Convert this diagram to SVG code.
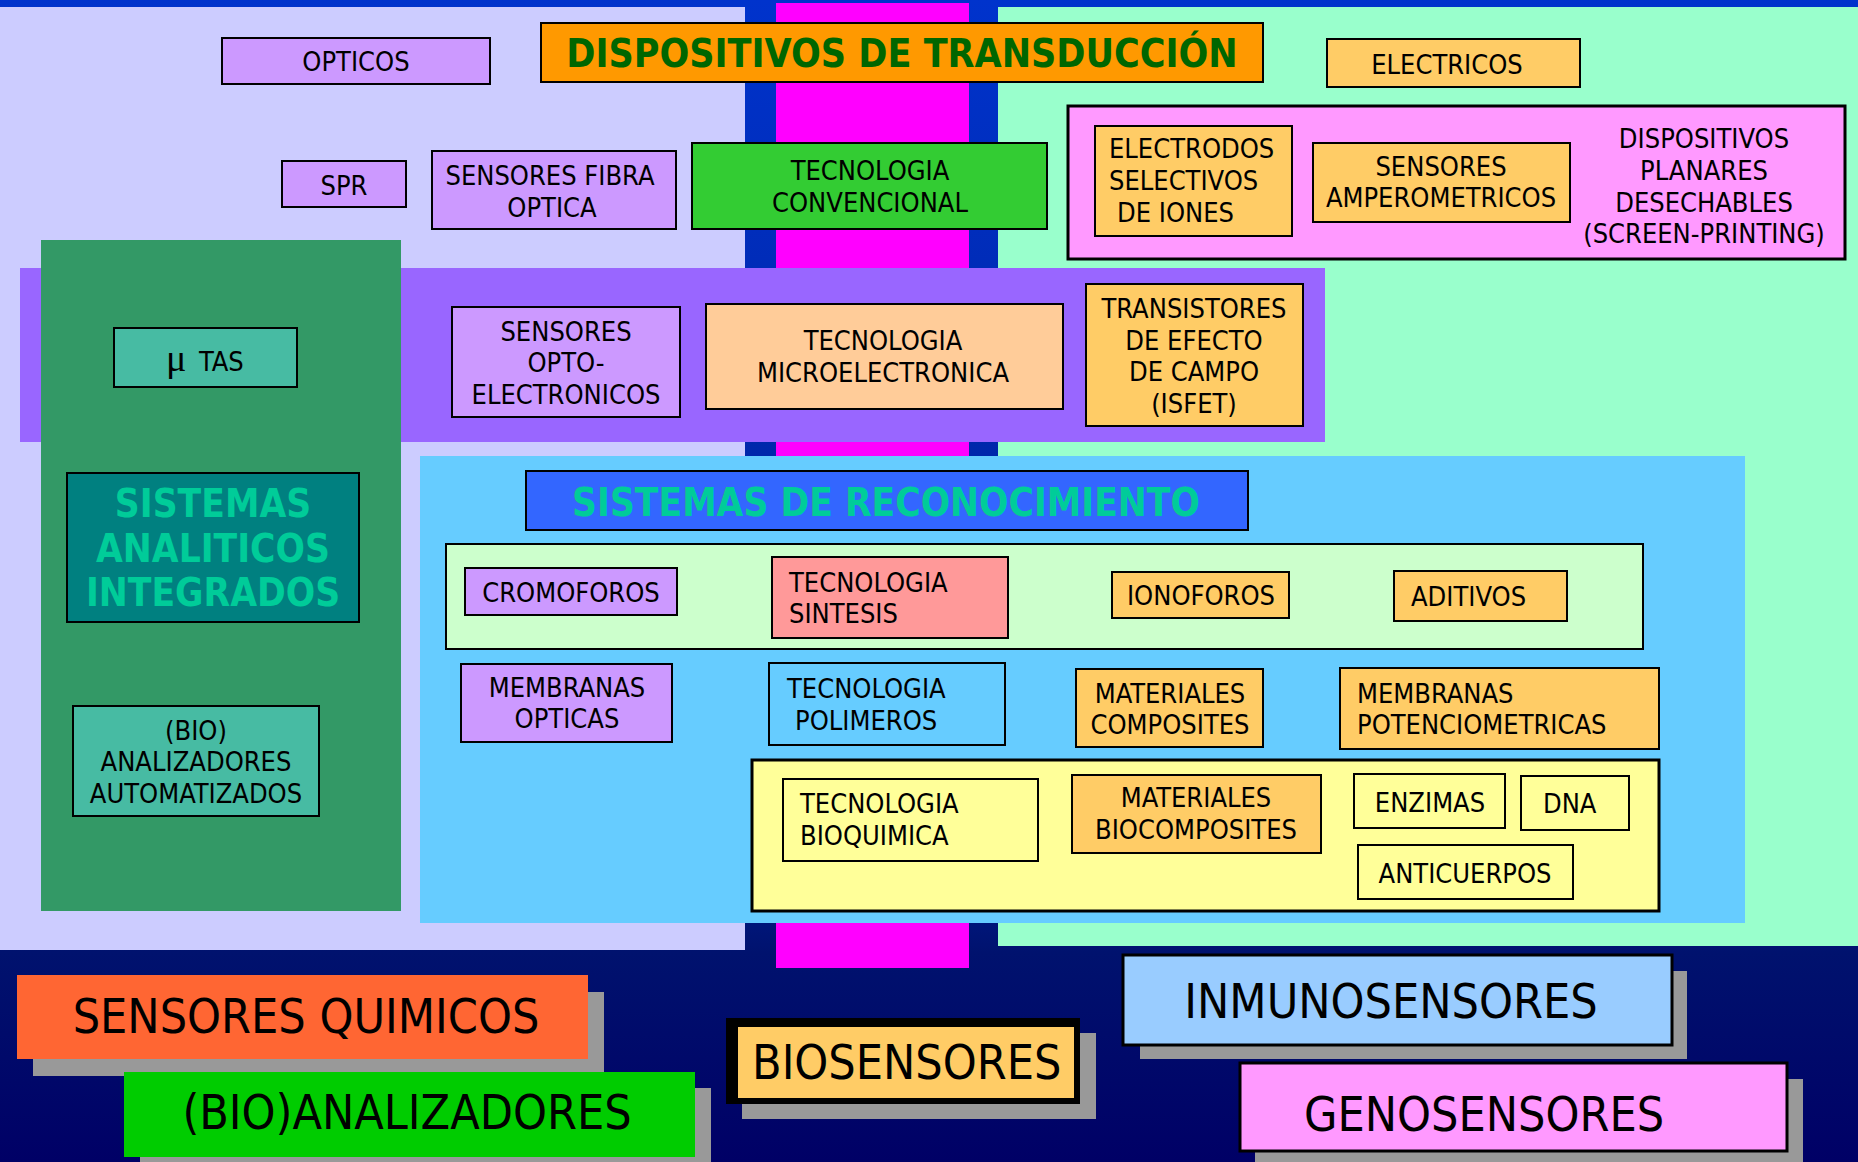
<svg xmlns="http://www.w3.org/2000/svg" width="1858" height="1162" viewBox="0 0 1858 1162">
<defs>
<linearGradient id="bg" x1="0" y1="0" x2="0" y2="1">
<stop offset="0" stop-color="#0033CC"/>
<stop offset="0.75" stop-color="#001C8C"/>
<stop offset="0.82" stop-color="#00126E"/>
<stop offset="1" stop-color="#000066"/>
</linearGradient>
<style>
.t{font-family:'DejaVu Sans Condensed','DejaVu Sans',sans-serif;font-stretch:condensed;font-size:27px;fill:#000}
.c{text-anchor:middle}
.h{font-weight:bold;font-size:38.5px}
.big{font-size:48px}
.b{stroke:#000;stroke-width:2}
.b3{stroke:#000;stroke-width:3}
.sh{fill:#999999}
</style>
</defs>
<g id="background">
<rect x="0" y="0" width="1858" height="1162" fill="url(#bg)"/>
<rect x="0" y="7" width="745" height="943" fill="#CCCCFF"/>
<rect x="998" y="7" width="860" height="939" fill="#99FFCC"/>
<rect x="776" y="3" width="193" height="965" fill="#FF00FF"/>
<rect x="20" y="268" width="1305" height="174" fill="#9966FF"/>
<rect x="41" y="240" width="360" height="671" fill="#339966"/>
<rect x="420" y="456" width="1325" height="467" fill="#66CCFF"/>
</g>
<g id="connectors"/>
<g id="title-transduccion"><rect class="b" x="541" y="23" width="722" height="59" fill="#FF9900"/><text class="t c h" x="902" y="67" style="fill:#006600;font-size:39px">DISPOSITIVOS DE TRANSDUCCIÓN</text></g>
<g id="opticos"><rect class="b" x="222" y="38" width="268" height="46" fill="#CC99FF"/><text class="t c" x="356" y="71">OPTICOS</text></g>
<g id="electricos"><rect class="b" x="1327" y="39" width="253" height="48" fill="#FFCC66"/><text class="t c" x="1447" y="74">ELECTRICOS</text></g>
<g id="spr"><rect class="b" x="282" y="161" width="124" height="46" fill="#CC99FF"/><text class="t c" x="344" y="195">SPR</text></g>
<g id="fibra-optica"><rect class="b" x="432" y="151" width="244" height="78" fill="#CC99FF"/><text class="t c" x="550" y="185">SENSORES FIBRA</text><text class="t c" x="552" y="217">OPTICA</text></g>
<g id="tecnologia-convencional"><rect class="b" x="692" y="143" width="355" height="86" fill="#33CC33"/><text class="t c" x="870" y="180">TECNOLOGIA</text><text class="t c" x="870" y="212">CONVENCIONAL</text></g>
<g id="electricos-grupo"><rect class="b3" x="1068" y="106" width="777" height="153" fill="#FF99FF"/></g>
<g id="electrodos"><rect class="b" x="1095" y="126" width="197" height="110" fill="#FFCC66"/><text class="t" x="1109" y="158">ELECTRODOS</text><text class="t" x="1109" y="190">SELECTIVOS</text><text class="t" x="1117" y="222">DE IONES</text></g>
<g id="amperometricos"><rect class="b" x="1313" y="143" width="257" height="79" fill="#FFCC66"/><text class="t c" x="1441" y="176">SENSORES</text><text class="t c" x="1441" y="207">AMPEROMETRICOS</text></g>
<g id="planares"><text class="t c" x="1704" y="148">DISPOSITIVOS</text><text class="t c" x="1704" y="180">PLANARES</text><text class="t c" x="1704" y="212">DESECHABLES</text><text class="t c" x="1704" y="243">(SCREEN-PRINTING)</text></g>
<g id="mu-tas"><rect class="b" x="114" y="328" width="183" height="59" fill="#47BBA3"/><text class="t" x="166" y="371"><tspan style="font-family:'Liberation Serif',serif;font-size:38px">μ</tspan><tspan x="199">TAS</tspan></text></g>
<g id="opto-electronicos"><rect class="b" x="452" y="307" width="228" height="110" fill="#CC99FF"/><text class="t c" x="566" y="341">SENSORES</text><text class="t c" x="566" y="372">OPTO-</text><text class="t c" x="566" y="404">ELECTRONICOS</text></g>
<g id="microelectronica"><rect class="b" x="706" y="304" width="357" height="105" fill="#FFCC99"/><text class="t c" x="883" y="350">TECNOLOGIA</text><text class="t c" x="883" y="382">MICROELECTRONICA</text></g>
<g id="isfet"><rect class="b" x="1086" y="284" width="217" height="142" fill="#FFCC66"/><text class="t c" x="1194" y="318">TRANSISTORES</text><text class="t c" x="1194" y="350">DE EFECTO</text><text class="t c" x="1194" y="381">DE CAMPO</text><text class="t c" x="1194" y="413">(ISFET)</text></g>
<g id="sistemas-analiticos"><rect class="b" x="67" y="473" width="292" height="149" fill="#008080"/><text class="t c h" x="213" y="517" style="fill:#00CC99">SISTEMAS</text><text class="t c h" x="213" y="562" style="fill:#00CC99">ANALITICOS</text><text class="t c h" x="213" y="606" style="fill:#00CC99">INTEGRADOS</text></g>
<g id="analizadores-automatizados"><rect class="b" x="73" y="706" width="246" height="110" fill="#47BBA3"/><text class="t c" x="196" y="740">(BIO)</text><text class="t c" x="196" y="771">ANALIZADORES</text><text class="t c" x="196" y="803">AUTOMATIZADOS</text></g>
<g id="sistemas-reconocimiento"><rect class="b" x="526" y="471" width="722" height="59" fill="#3366FF"/><text class="t c h" x="886" y="516" style="fill:#00CC99">SISTEMAS DE RECONOCIMIENTO</text></g>
<g id="sintesis-grupo"><rect class="b" x="446" y="544" width="1197" height="105" fill="#CCFFCC"/></g>
<g id="cromoforos"><rect class="b" x="465" y="568" width="212" height="47" fill="#CC99FF"/><text class="t c" x="571" y="602">CROMOFOROS</text></g>
<g id="tecnologia-sintesis"><rect class="b" x="772" y="557" width="236" height="81" fill="#FF9999"/><text class="t" x="789" y="592">TECNOLOGIA</text><text class="t" x="789" y="623">SINTESIS</text></g>
<g id="ionoforos"><rect class="b" x="1112" y="572" width="177" height="46" fill="#FFCC66"/><text class="t c" x="1201" y="605">IONOFOROS</text></g>
<g id="aditivos"><rect class="b" x="1394" y="571" width="173" height="50" fill="#FFCC66"/><text class="t" x="1411" y="606">ADITIVOS</text></g>
<g id="membranas-opticas"><rect class="b" x="461" y="664" width="211" height="78" fill="#CC99FF"/><text class="t c" x="567" y="697">MEMBRANAS</text><text class="t c" x="567" y="728">OPTICAS</text></g>
<g id="tecnologia-polimeros"><rect class="b" x="769" y="663" width="236" height="82" fill="#66CCFF"/><text class="t" x="787" y="698">TECNOLOGIA</text><text class="t" x="795" y="730">POLIMEROS</text></g>
<g id="materiales-composites"><rect class="b" x="1076" y="669" width="187" height="78" fill="#FFCC66"/><text class="t c" x="1170" y="703">MATERIALES</text><text class="t c" x="1170" y="734">COMPOSITES</text></g>
<g id="membranas-potenciometricas"><rect class="b" x="1340" y="668" width="319" height="81" fill="#FFCC66"/><text class="t" x="1357" y="703">MEMBRANAS</text><text class="t" x="1357" y="734">POTENCIOMETRICAS</text></g>
<g id="bio-grupo"><rect class="b3" x="752" y="760" width="907" height="151" fill="#FFFF99"/></g>
<g id="tecnologia-bioquimica"><rect class="b" x="783" y="779" width="255" height="82" fill="#FFFF99"/><text class="t" x="800" y="813">TECNOLOGIA</text><text class="t" x="800" y="845">BIOQUIMICA</text></g>
<g id="materiales-biocomposites"><rect class="b" x="1072" y="775" width="249" height="78" fill="#FFCC66"/><text class="t c" x="1196" y="807">MATERIALES</text><text class="t c" x="1196" y="839">BIOCOMPOSITES</text></g>
<g id="enzimas"><rect class="b" x="1354" y="774" width="151" height="54" fill="#FFFF99"/><text class="t c" x="1430" y="812">ENZIMAS</text></g>
<g id="dna"><rect class="b" x="1521" y="776" width="108" height="54" fill="#FFFF99"/><text class="t" x="1543" y="813">DNA</text></g>
<g id="anticuerpos"><rect class="b" x="1358" y="845" width="215" height="54" fill="#FFFF99"/><text class="t c" x="1465" y="883">ANTICUERPOS</text></g>
<g id="sensores-quimicos"><rect class="sh" x="33" y="992" width="571" height="84"/><rect x="17" y="975" width="571" height="84" fill="#FF6633"/><text class="t c big" x="306" y="1033">SENSORES QUIMICOS</text></g>
<g id="bioanalizadores"><rect class="sh" x="140" y="1088" width="571" height="90"/><rect x="124" y="1072" width="571" height="85" fill="#00CC00"/><text class="t c big" x="407" y="1129">(BIO)ANALIZADORES</text></g>
<g id="biosensores"><rect class="sh" x="742" y="1033" width="354" height="86"/><rect x="726" y="1018" width="354" height="86" fill="#000"/><rect x="738" y="1027" width="336" height="71" fill="#FFCC66"/><text class="t big" x="752" y="1079">BIOSENSORES</text></g>
<g id="inmunosensores"><rect class="sh" x="1140" y="971" width="547" height="88"/><rect class="b3" x="1123" y="955" width="549" height="90" fill="#99CCFF"/><text class="t c big" x="1391" y="1018">INMUNOSENSORES</text></g>
<g id="genosensores"><rect class="sh" x="1255" y="1079" width="548" height="90"/><rect class="b3" x="1240" y="1063" width="547" height="88" fill="#FF99FF"/><text class="t big" x="1304" y="1131">GENOSENSORES</text></g>
</svg>
